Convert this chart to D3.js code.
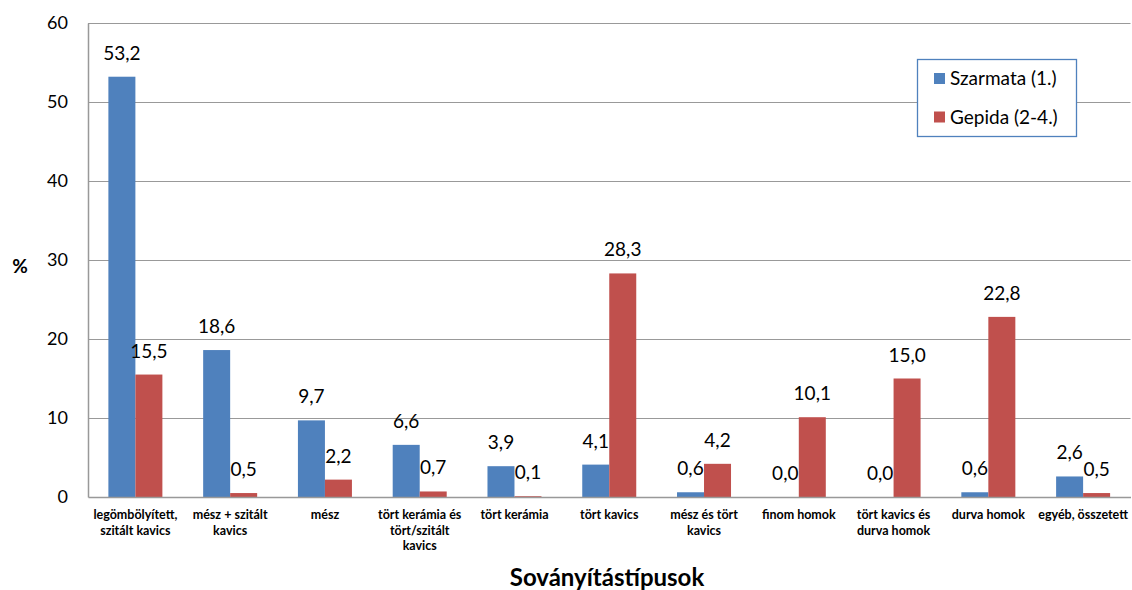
<!DOCTYPE html>
<html><head><meta charset="utf-8">
<script src="https://cdn.jsdelivr.net/npm/d3@7"></script>
<style>
html,body{margin:0;padding:0;background:#fff;}
svg{display:block;font-family:Lato,"Open Sans",sans-serif;}
</style></head>
<body><svg id="c" width="1132" height="590"></svg>
<script>
const categories = [
  "legömbölyített,\nszitált kavics",
  "mész + szitált\nkavics",
  "mész",
  "tört kerámia és\ntört/szitált\nkavics",
  "tört kerámia",
  "tört kavics",
  "mész és tört\nkavics",
  "finom homok",
  "tört kavics és\ndurva homok",
  "durva homok",
  "egyéb, összetett"
];
const seriesNames = ["Szarmata (1.)", "Gepida (2-4.)"];
const szarmata = [53.2, 18.6, 9.7, 6.6, 3.9, 4.1, 0.6, 0.0, 0.0, 0.6, 2.6];
const gepida   = [15.5, 0.5, 2.2, 0.7, 0.1, 28.3, 4.2, 10.1, 15.0, 22.8, 0.5];
const yTicks = [0, 10, 20, 30, 40, 50, 60];
const colors = ["#4F81BD", "#C0504D"];

const svg = d3.select("#c");
const L = 88, R = 1130.5, T = 23, B = 497;
const x = d3.scaleBand().domain(d3.range(categories.length)).range([L, R]).paddingInner(0).paddingOuter(0);
const inner = d3.scaleBand().domain([0,1]).range([0, x.bandwidth()]).paddingInner(0).paddingOuter(0.755);
const y = d3.scaleLinear().domain([0, 60]).range([B, T]);
const fmt = v => d3.format(".1f")(v).replace(".", ",");

// gridlines
svg.append("g").selectAll("line").data(yTicks.filter(t => t > 0)).join("line")
  .attr("x1", L).attr("x2", R).attr("y1", d => Math.round(y(d)) + 0.5).attr("y2", d => Math.round(y(d)) + 0.5)
  .attr("stroke", "#999").attr("stroke-width", 1.2);

// y axis
const yAxis = svg.append("g").attr("transform", `translate(${L},0)`)
  .call(d3.axisLeft(y).tickValues(yTicks).tickSize(0).tickPadding(20).tickFormat(d3.format("d")));
yAxis.select(".domain").attr("stroke", "#999").attr("stroke-width", 1.5);
yAxis.selectAll("text").attr("font-size", 18).attr("fill", "#000").attr("font-family", "Lato");

const series = [szarmata, gepida];
series.forEach((vals, si) => {
  const g = svg.append("g");
  g.selectAll("rect").data(vals).join("rect")
    .attr("x", (d, i) => x(i) + inner(si))
    .attr("width", inner.bandwidth())
    .attr("y", d => y(d))
    .attr("height", d => y(0) - y(d))
    .attr("fill", colors[si]);
  g.selectAll("text").data(vals).join("text")
    .attr("x", (d, i) => x(i) + inner(si) + inner.bandwidth() / 2)
    .attr("y", d => y(d) - 17)
    .attr("text-anchor", "middle")
    .attr("font-size", 19).attr("fill", "#000")
    .text(d => fmt(d));
});

// x axis
const xAxis = svg.append("g").attr("transform", `translate(0,${B})`)
  .call(d3.axisBottom(x).tickSize(0).tickFormat(""));
xAxis.select(".domain").attr("stroke", "#999").attr("stroke-width", 1.5);
xAxis.selectAll(".tick").each(function(d) {
  const lines = categories[d].split("\n");
  const t = d3.select(this).append("text")
    .attr("text-anchor", "middle").attr("font-size", 12.5).attr("font-weight", "bold")
    .attr("fill", "#000").attr("font-family", "Lato");
  lines.forEach((ln, k) => t.append("tspan").attr("x", 0).attr("y", 22 + k * 15.5).text(ln));
});

// axis titles
svg.append("text").attr("x", 607).attr("y", 586).attr("text-anchor", "middle")
  .attr("font-size", 24).attr("font-weight", "bold").attr("fill", "#000").text("Soványítástípusok");
svg.append("text").attr("x", 20).attr("y", 273).attr("text-anchor", "middle")
  .attr("font-size", 19).attr("font-weight", "bold").attr("fill", "#000").text("%");

// legend
const lg = svg.append("g");
lg.append("rect").attr("x", 917.5).attr("y", 59.5).attr("width", 159).attr("height", 77)
  .attr("fill", "#fff").attr("stroke", "#4F81BD").attr("stroke-width", 1.3);
seriesNames.forEach((n, i) => {
  lg.append("rect").attr("x", 934).attr("y", 73 + i * 38.5).attr("width", 11).attr("height", 11).attr("fill", colors[i]);
  lg.append("text").attr("x", 950).attr("y", 85 + i * 39).attr("font-size", 19).attr("fill", "#000").text(n);
});
</script></body></html>
